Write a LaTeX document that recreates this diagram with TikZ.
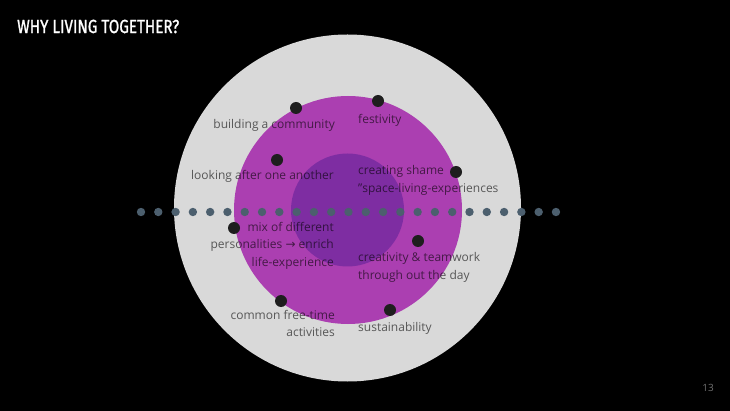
\documentclass[tikz,border=0pt]{standalone}
\usepackage{fontspec}
\setmainfont{Open Sans}
\newfontfamily\titlefont[FakeStretch=0.8, FakeBold=1.2]{Fira Sans}
\newfontfamily\symfont{DejaVu Sans}
\usetikzlibrary{positioning}

\definecolor{ringgrey}{HTML}{D9D9D9}
\definecolor{ringmagenta}{HTML}{AB3FB1}
\definecolor{ringpurple}{HTML}{7E2DA2}
\definecolor{dotslate}{HTML}{4C5F6E}
\definecolor{dotblack}{HTML}{1E1E1E}

\begin{document}
\begin{tikzpicture}[x=1pt, y=-1pt,
  marker/.style={circle, fill=dotblack, inner sep=0pt, minimum size=12pt},
  lbl/.style={inner sep=0pt, text=black, text opacity=0.6,
    font=\fontsize{12}{17.5}\selectfont}]
% Draw background
\fill[black] (0,0) rectangle (730,411);
\useasboundingbox (0,0) rectangle (730,411);

% Title and page number
\node[anchor=west, text=white, font=\titlefont\fontsize{19}{19}\selectfont, inner sep=0pt] (title) at (17,26.5) {WHY LIVING TOGETHER?};
\node[text=white!45!black, font=\fontsize{10}{10}\selectfont, inner sep=0pt] (page) at (708,388) {13};

% Draw the three rings
\fill[ringgrey] (347.5,208) circle (173.5);
\fill[ringmagenta] (348,210) circle (114);
\fill[ringpurple] (347.5,210) circle (56.5);

% Draw dotted axis
\foreach \i in {0,...,24}
  \fill[dotslate] ({141+\i*17.29},212) circle (4.2);

% Place markers
\node[marker] (community) at (296,108) {};
\node[marker] (festivity) at (378,101) {};
\node[marker] (caring) at (277,160) {};
\node[marker] (shared) at (456,172) {};
\node[marker] (mix) at (234,228) {};
\node[marker] (teamwork) at (418,241) {};
\node[marker] (freetime) at (281,301) {};
\node[marker] (sustain) at (390,310) {};

% Label the markers
\node[lbl, anchor=east] (community-l) at (335,125) {building a community};
\node[lbl, anchor=west] (festivity-l) at (358,120) {festivity};
\node[lbl, anchor=east] (caring-l) at (334,176) {looking after one another};
\node[lbl, anchor=west, align=left] (shared-l) at (358,180.5) {creating shame\\"space-living-experiences};
\node[lbl, anchor=east, align=right] (mix-l) at (334,245.5) {mix of different\\personalities {\symfont→} enrich\\life-experience};
\node[lbl, anchor=west, align=left] (teamwork-l) at (358,267.5) {creativity \& teamwork\\through out the day};
\node[lbl, anchor=east, align=right] (freetime-l) at (335,323.5) {common free-time\\activities};
\node[lbl, anchor=west] (sustain-l) at (358,328) {sustainability};
\end{tikzpicture}
\end{document}
